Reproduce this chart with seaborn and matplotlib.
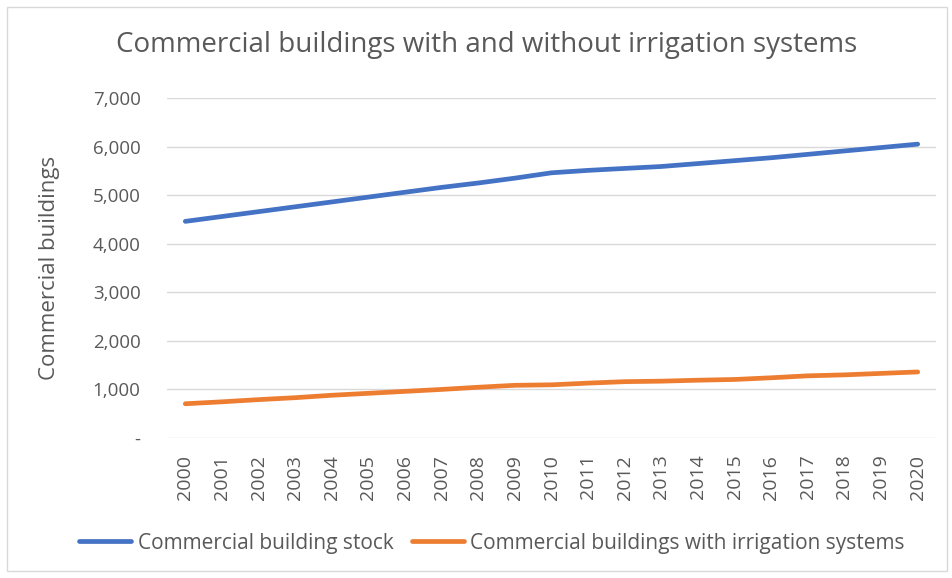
import numpy as np
import pandas as pd
import matplotlib.pyplot as plt
import matplotlib.ticker as mticker
from matplotlib.patches import FancyBboxPatch
import seaborn as sns

years = [str(y) for y in range(2000, 2021)]
building_stock = [4460, 4560, 4660, 4760, 4860, 4960, 5060, 5160, 5250, 5350, 5460,
                  5510, 5550, 5590, 5650, 5710, 5770, 5840, 5910, 5980, 6050]
with_irrigation = [705, 745, 790, 830, 880, 920, 960, 1000, 1045, 1085, 1095,
                   1130, 1160, 1170, 1190, 1205, 1240, 1280, 1300, 1330, 1360]
series_names = ["Commercial building stock", "Commercial buildings with irrigation systems"]
colors = ["#4472C4", "#ED7D31"]

df = pd.DataFrame({
    "year": years * 2,
    "value": building_stock + with_irrigation,
    "series": [series_names[0]] * len(years) + [series_names[1]] * len(years),
})

sns.set_theme(style="white")
plt.rcParams["font.family"] = ["Open Sans", "DejaVu Sans"]
text_color = "#595959"

fig = plt.figure(figsize=(9.52, 5.78), dpi=100)
ax = fig.add_axes([167 / 952, 1 - 438 / 578, (936 - 167) / 952, (438 - 98) / 578])

sns.lineplot(data=df, x="year", y="value", hue="series", palette=colors,
             linewidth=3.4, ax=ax, legend=False, sort=False)

ax.set_xlim(-0.5, len(years) - 0.5)
ax.set_ylim(0, 7000)
ax.set_yticks(range(0, 7001, 1000))
ax.yaxis.set_major_formatter(mticker.FuncFormatter(
    lambda v, p: "-" if v == 0 else f"{int(v):,}"))
ax.grid(axis="y", color="#D9D9D9", linewidth=1)
ax.grid(axis="x", visible=False)
for s in ax.spines.values():
    s.set_visible(False)
ax.tick_params(axis="y", colors=text_color, labelsize=13.5, length=0, pad=19)
ax.tick_params(axis="x", colors=text_color, labelsize=14, length=0, pad=12)
plt.setp(ax.get_xticklabels(), rotation=90)
ax.set_xlabel("")
ax.set_ylabel("Commercial buildings", color=text_color, fontsize=16)
ax.yaxis.set_label_coords((60 - 167) / 769, 0.5)

fig.text(487 / 952, 1 - 45 / 578, "Commercial buildings with and without irrigation systems",
         ha="center", va="center", fontsize=20, color=text_color)

# legend
handles = [plt.Line2D([], [], color=c, linewidth=3.4) for c in colors]
fig.legend(handles, series_names, loc="center", bbox_to_anchor=(492 / 952, 1 - 543 / 578),
           ncol=2, frameon=False, fontsize=15, labelcolor=text_color,
           handlelength=2.5, handletextpad=0.3, columnspacing=0.9)

# chart border
fig.patches.append(FancyBboxPatch((7 / 952, 7 / 578), 940 / 952, 564 / 578,
                                  boxstyle="square,pad=0", transform=fig.transFigure,
                                  fill=False, edgecolor="#D9D9D9", linewidth=1))

fig.savefig("out.png", dpi=100)
